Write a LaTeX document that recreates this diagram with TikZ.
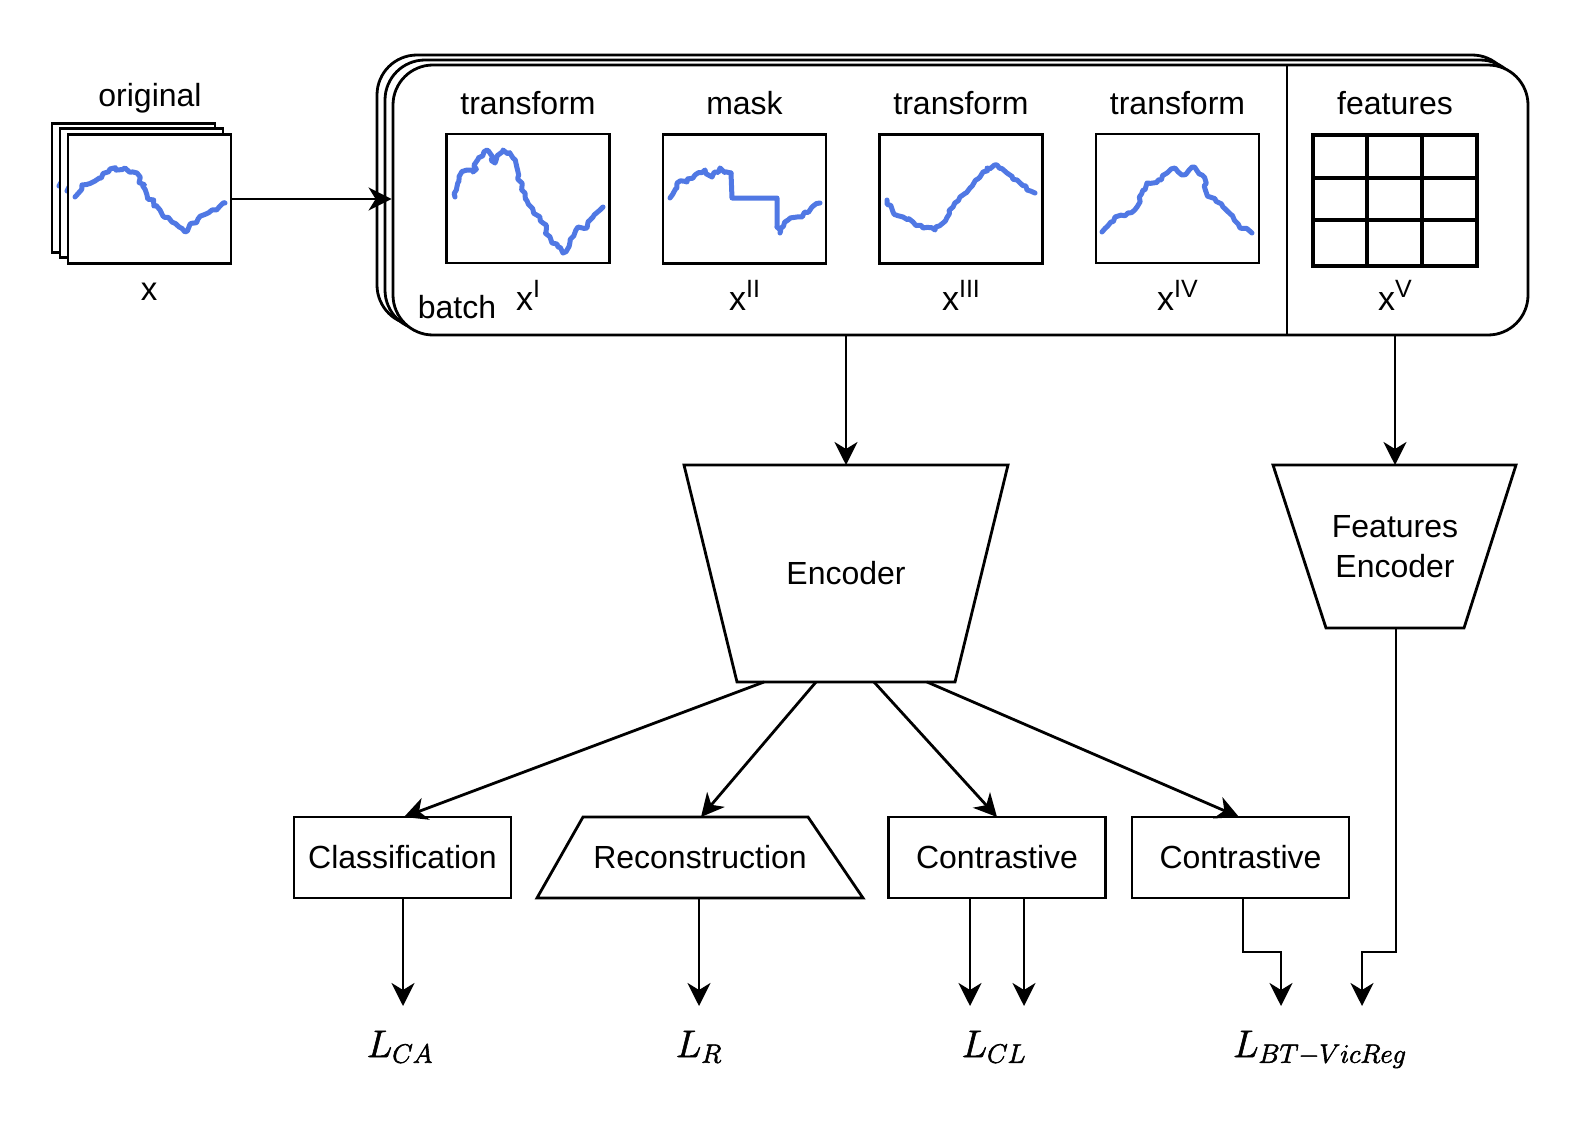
\documentclass[tikz,border=0pt]{standalone}
\usepackage{fontspec}
\setmainfont{Liberation Sans}
\usetikzlibrary{arrows.meta,decorations.pathmorphing,calc}
\definecolor{sig}{RGB}{80,120,228}
\newcommand\xlab[1]{{\fontsize{34}{34}\selectfont x}{\fontsize{25}{25}\selectfont\raisebox{13pt}{#1}}}
\newcommand\heavy[1]{\special{pdf:literal direct 2 Tr 0.3 w}#1\special{pdf:literal direct 0 Tr}}
\begin{document}
\begin{tikzpicture}[x=1pt,y=-1pt,
  ln/.style={line width=2.8pt},
  arr/.style={ln,-{Stealth[length=23pt,width=23pt,inset=7pt]}},
  sigbox/.style={draw,ln,fill=white,inner sep=0pt,minimum width=163pt,minimum height=129pt},
  sigline/.style={draw=sig,line width=5pt,line join=round,line cap=round},
  noisy/.style={decorate,decoration={random steps,segment length=4pt,amplitude=2.2pt}},
  lbl/.style={font=\fontsize{32}{40}\selectfont,inner sep=0pt},
  mlbl/.style={font=\fontsize{20.74}{25}\selectfont,inner sep=0pt,scale=1.85},
  boxn/.style={draw,ln,fill=white,inner sep=0pt,minimum width=217pt,minimum height=81pt,font=\fontsize{32}{40}\selectfont},
  batchbox/.style={draw,ln,fill=white,rounded corners=40pt,inner sep=0pt,minimum width=1135pt,minimum height=270pt}
]
\pgfmathsetseed{11}
\useasboundingbox (0,0) rectangle (1583,1121);
\fill[white] (0,0) rectangle (1583,1121);

% ---- original stack
\node[sigbox] (origc) at (133.5,188) {};
\draw[sigline,noisy] (59,186) -- (66,174) -- (79,170) -- (94,158) -- (109,157) -- (121,162) -- (131,184) -- (144,199);
\node[sigbox] (origb) at (141.5,193) {};
\draw[sigline,noisy] (67,191) -- (74,179) -- (87,175) -- (102,163) -- (117,162) -- (129,167) -- (139,189) -- (152,204);
\node[sigbox] (orig) at (149.5,199) {};
\draw[sigline,noisy] (75,197) -- (82,185) -- (95,181) -- (110,169) -- (125,168) -- (137,173) -- (147,195) -- (160,210) -- (172,222) -- (185,232) -- (198,219) -- (212,210) -- (225,203);
\node[lbl,anchor=base] (origlbl) at (150,107) {original};
\node[anchor=base,inner sep=0pt] (xlbl) at (149,300) {\fontsize{33}{33}\selectfont x};

% ---- batch stack
\node[batchbox] (batchc) at (944.5,190) {};
\node[batchbox] (batchb) at (952.5,195) {};
\node[batchbox] (batch) at (960.5,200) {};
\draw[ln] (1287,65) -- (1287,335);

\draw[arr] (orig.east) -- (orig.east -| batch.west);

% signal boxes
\node[sigbox] (t1) at (528,198.5) {};
\node[sigbox] (mk) at (744.5,199) {};
\node[sigbox] (t3) at (961,199) {};
\node[sigbox] (t4) at (1177.5,198.5) {};

\draw[sigline,noisy] (455,197) -- (460,175) -- (467,170) -- (473,172) -- (478,158) -- (487,150) -- (495,163) -- (503,150) -- (513,158) -- (518,177) -- (525,193) -- (533,210) -- (543,223) -- (552,243) -- (558,247) -- (563,253) -- (570,242) -- (578,227) -- (587,228) -- (593,217) -- (600,210) -- (603,207);

\draw[sigline,noisy] (670,198) -- (677,183) -- (687,182) -- (695,175) -- (705,170) -- (712,177) -- (720,168) -- (731,173);
\draw[sigline] (731,173) -- (732,198) -- (777,198) -- (777,227);
\draw[sigline,noisy] (777,227) -- (780,233) -- (788,220) -- (797,217) -- (803,215) -- (812,207) -- (820,203);

\draw[sigline,noisy] (887,200) -- (893,212) -- (903,217) -- (913,222) -- (923,228) -- (935,230) -- (943,223) -- (953,207) -- (960,197) -- (970,188) -- (980,177) -- (987,168) -- (997,165) -- (1007,173) -- (1017,180) -- (1027,190) -- (1035,193);

\draw[sigline,noisy] (1102,232) -- (1115,217) -- (1128,213) -- (1137,207) -- (1147,183) -- (1158,180) -- (1167,173) -- (1175,168) -- (1183,175) -- (1192,167) -- (1202,175) -- (1210,197) -- (1223,207) -- (1233,217) -- (1240,228) -- (1252,233);

% features grid
\node[draw,line width=3.2pt,inner sep=0pt,minimum width=164pt,minimum height=131pt] (feat) at (1395,200.5) {};
\draw[line width=3.2pt] (1367,135) -- (1367,266) (1422,135) -- (1422,266) (1313,178) -- (1477,178) (1313,220) -- (1477,220);

% titles
\node[lbl,anchor=base] (tt1) at (528,115) {transform};
\node[lbl,anchor=base] (tt2) at (744.5,115) {mask};
\node[lbl,anchor=base] (tt3) at (961,115) {transform};
\node[lbl,anchor=base] (tt4) at (1177.5,115) {transform};
\node[lbl,anchor=base] (tt5) at (1395,115) {features};
\node[lbl,anchor=base] (batchlbl) at (457,318) {batch};
\node[anchor=base,inner sep=0pt] (x1) at (528,310) {\xlab{I}};
\node[anchor=base,inner sep=0pt] (x2) at (744.5,310) {\xlab{II}};
\node[anchor=base,inner sep=0pt] (x3) at (961,310) {\xlab{III}};
\node[anchor=base,inner sep=0pt] (x4) at (1177.5,310) {\xlab{IV}};
\node[anchor=base,inner sep=0pt] (x5) at (1395,310) {\xlab{V}};

% ---- encoders
\coordinate (encTL) at (684,465);
\coordinate (encTR) at (1008,465);
\coordinate (encBR) at (955,682);
\coordinate (encBL) at (737,682);
\draw[ln] (encTL) -- (encTR) -- (encBR) -- (encBL) -- cycle;
\node[lbl] (enc) at (846,573) {Encoder};
\coordinate (encTop) at (846,465);

\coordinate (feTL) at (1273,465);
\coordinate (feTR) at (1516,465);
\coordinate (feBR) at (1464,628);
\coordinate (feBL) at (1326,628);
\draw[ln] (feTL) -- (feTR) -- (feBR) -- (feBL) -- cycle;
\node[lbl,align=center] (fenc) at (1395,547) {Features\\Encoder};
\coordinate (feTop) at (1395,465);
\coordinate (feBot) at (1396,628);

\draw[arr] (batch.south -| encTop) -- (encTop);
\draw[arr] (batch.south -| feTop) -- (feTop);

% ---- heads
\node[boxn] (cls) at (402.5,857.5) {Classification};
\coordinate (recTL) at (583,817);
\coordinate (recTR) at (808,817);
\coordinate (recBR) at (863,898);
\coordinate (recBL) at (537,898);
\draw[ln] (recTL) -- (recTR) -- (recBR) -- (recBL) -- cycle;
\node[lbl] (rec) at (700,857.5) {Reconstruction};
\node[boxn] (ct1) at (997,857.5) {Contrastive};
\node[boxn] (ct2) at (1240.5,857.5) {Contrastive};

\coordinate (e1) at (764,682);
\coordinate (e2) at (816,682);
\coordinate (e3) at (874,682);
\coordinate (e4) at (927,682);
\draw[arr] (e1) -- (404,817);
\draw[arr] (e2) -- (701,817);
\draw[arr] (e3) -- (997,817);
\draw[arr] (e4) -- (1239,817);

% ---- losses
\node[mlbl,anchor=base] (lca) at (400,1057) {\heavy{$L_{CA}$}};
\node[mlbl,anchor=base] (lr) at (699,1057) {\heavy{$L_{R}$}};
\node[mlbl,anchor=base] (lcl) at (994,1057) {\heavy{$L_{CL}$}};
\node[mlbl,anchor=base] (lbt) at (1320,1057) {\heavy{$L_{BT-VicReg}$}};

\draw[arr] (cls.south -| 403,0) -- (403,1006);
\draw[arr] (699,898) -- (699,1006);
\draw[arr] (ct1.south -| 970,0) -- (970,1006);
\draw[arr] (ct1.south -| 1024,0) -- (1024,1006);
\draw[arr] (ct2.south -| 1243,0) -- (1243,952) -- (1281,952) -- (1281,1006);
\draw[arr] (feBot) -- (1396,952) -- (1362,952) -- (1362,1006);
\end{tikzpicture}
\end{document}
